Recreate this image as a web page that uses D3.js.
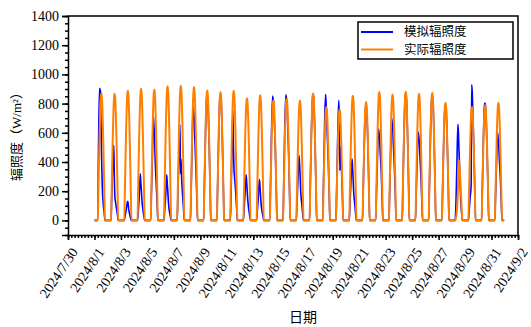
<!DOCTYPE html>
<html>
<head>
<meta charset="utf-8">
<script src="https://cdn.jsdelivr.net/npm/d3@7"></script>
<style>
  html, body { margin: 0; padding: 0; background: #fff; }
  svg { display: block; }
  .serif { font-family: "Liberation Serif", "DejaVu Serif", serif; }
  .title { font-family: "Liberation Serif", "DejaVu Serif", "Noto Sans CJK SC", serif; }
  .cjk { font-family: "Noto Sans CJK SC", sans-serif; }
</style>
</head>
<body>
<div id="chart"></div>
<script>
// 2024年8月 逐日辐照度：模拟值 vs 实测值（每天若干时刻的采样）
const days = [
  '2024/8/1', '2024/8/2', '2024/8/3', '2024/8/4', '2024/8/5', '2024/8/6', '2024/8/7', '2024/8/8',
  '2024/8/9', '2024/8/10', '2024/8/11', '2024/8/12', '2024/8/13', '2024/8/14', '2024/8/15', '2024/8/16',
  '2024/8/17', '2024/8/18', '2024/8/19', '2024/8/20', '2024/8/21', '2024/8/22', '2024/8/23', '2024/8/24',
  '2024/8/25', '2024/8/26', '2024/8/27', '2024/8/28', '2024/8/29', '2024/8/30', '2024/8/31'
];
const hours = [0, 6, 7, 9, 11, 12, 13, 14, 16, 18, 19, 23];

const simulated = [
  [0, 0, 380, 905, 880, 640, 420, 250, 110, 40, 0, 0],
  [0, 0, 120, 380, 514, 300, 160, 130, 80, 30, 0, 0],
  [0, 0, 20, 60, 110, 130, 120, 80, 40, 10, 0, 0],
  [0, 0, 40, 150, 320, 260, 210, 140, 70, 20, 0, 0],
  [0, 0, 150, 420, 708, 640, 560, 420, 250, 80, 0, 0],
  [0, 0, 50, 160, 313, 250, 200, 130, 60, 20, 0, 0],
  [0, 0, 140, 420, 655, 320, 420, 300, 160, 50, 0, 0],
  [0, 0, 160, 500, 776, 740, 700, 560, 350, 110, 0, 0],
  [0, 0, 175, 540, 820, 860, 850, 780, 520, 170, 0, 0],
  [0, 0, 170, 530, 810, 850, 860, 800, 530, 170, 0, 0],
  [0, 0, 60, 420, 753, 500, 350, 300, 200, 70, 0, 0],
  [0, 0, 60, 180, 313, 260, 200, 140, 70, 20, 0, 0],
  [0, 0, 50, 150, 279, 240, 180, 120, 60, 20, 0, 0],
  [0, 0, 200, 600, 852, 830, 800, 700, 480, 150, 0, 0],
  [0, 0, 210, 620, 861, 840, 800, 700, 470, 150, 0, 0],
  [0, 0, 90, 280, 445, 380, 300, 200, 110, 30, 0, 0],
  [0, 0, 175, 540, 810, 860, 865, 800, 530, 170, 0, 0],
  [0, 0, 200, 600, 863, 800, 720, 600, 400, 130, 0, 0],
  [0, 0, 180, 560, 822, 700, 342, 500, 350, 110, 0, 0],
  [0, 0, 80, 260, 422, 360, 290, 200, 110, 30, 0, 0],
  [0, 0, 160, 490, 740, 780, 790, 730, 490, 160, 0, 0],
  [0, 0, 130, 400, 628, 600, 560, 480, 330, 100, 0, 0],
  [0, 0, 150, 440, 697, 660, 620, 520, 350, 110, 0, 0],
  [0, 0, 175, 540, 815, 860, 870, 810, 540, 175, 0, 0],
  [0, 0, 130, 390, 605, 580, 540, 450, 300, 90, 0, 0],
  [0, 0, 170, 530, 800, 845, 850, 800, 530, 170, 0, 0],
  [0, 0, 160, 490, 740, 790, 790, 740, 490, 160, 0, 0],
  [0, 0, 60, 350, 658, 600, 480, 380, 150, 40, 0, 0],
  [0, 0, 40, 150, 240, 929, 880, 760, 480, 150, 0, 0],
  [0, 0, 170, 510, 780, 804, 790, 720, 480, 150, 0, 0],
  [0, 0, 130, 380, 600, 560, 520, 430, 290, 90, 0, 0]
];

const measured = [
  [0, 0, 174, 540, 809, 862, 870, 805, 535, 170, 0, 0],
  [0, 0, 172, 536, 806, 860, 868, 808, 540, 175, 0, 0],
  [0, 0, 178, 550, 826, 880, 888, 825, 548, 176, 0, 0],
  [0, 0, 180, 560, 838, 893, 902, 840, 558, 180, 0, 0],
  [0, 0, 179, 556, 833, 887, 896, 833, 555, 178, 0, 0],
  [0, 0, 184, 569, 854, 909, 918, 853, 568, 183, 0, 0],
  [0, 0, 184, 572, 857, 913, 922, 857, 571, 184, 0, 0],
  [0, 0, 183, 566, 849, 904, 913, 849, 566, 182, 0, 0],
  [0, 0, 178, 552, 828, 881, 890, 828, 551, 178, 0, 0],
  [0, 0, 176, 545, 817, 870, 879, 818, 545, 175, 0, 0],
  [0, 0, 178, 551, 826, 879, 888, 825, 550, 177, 0, 0],
  [0, 0, 167, 518, 777, 828, 836, 778, 518, 167, 0, 0],
  [0, 0, 172, 532, 798, 849, 858, 798, 532, 171, 0, 0],
  [0, 0, 164, 510, 764, 814, 822, 764, 509, 164, 0, 0],
  [0, 0, 167, 517, 776, 826, 834, 775, 517, 167, 0, 0],
  [0, 0, 165, 509, 765, 813, 822, 765, 510, 165, 0, 0],
  [0, 0, 174, 539, 809, 861, 870, 809, 539, 174, 0, 0],
  [0, 0, 155, 481, 722, 768, 776, 721, 481, 155, 0, 0],
  [0, 0, 152, 471, 707, 752, 760, 707, 471, 152, 0, 0],
  [0, 0, 171, 529, 794, 845, 854, 794, 529, 171, 0, 0],
  [0, 0, 162, 503, 754, 803, 811, 754, 503, 162, 0, 0],
  [0, 0, 176, 545, 817, 870, 879, 817, 545, 176, 0, 0],
  [0, 0, 172, 534, 802, 853, 862, 802, 534, 172, 0, 0],
  [0, 0, 176, 547, 820, 873, 882, 820, 547, 176, 0, 0],
  [0, 0, 174, 538, 807, 859, 868, 807, 538, 174, 0, 0],
  [0, 0, 175, 542, 813, 865, 874, 813, 542, 175, 0, 0],
  [0, 0, 161, 500, 750, 798, 806, 750, 500, 161, 0, 0],
  [0, 0, 10, 60, 200, 350, 411, 370, 240, 70, 0, 0],
  [0, 0, 155, 481, 722, 768, 776, 722, 481, 155, 0, 0],
  [0, 0, 158, 490, 735, 782, 790, 735, 490, 158, 0, 0],
  [0, 0, 161, 500, 750, 798, 806, 750, 500, 161, 0, 0]
];

const xTickLabels = [
  '2024/7/30', '2024/8/1', '2024/8/3', '2024/8/5', '2024/8/7', '2024/8/9', '2024/8/11', '2024/8/13', '2024/8/15',
  '2024/8/17', '2024/8/19', '2024/8/21', '2024/8/23', '2024/8/25', '2024/8/27', '2024/8/29', '2024/8/31', '2024/9/2'
];
const yTicks = [0, 200, 400, 600, 800, 1000, 1200, 1400];
const seriesNames = ['模拟辐照度', '实际辐照度'];
const seriesColors = ['#0000ff', '#ff8000'];

const width = 531, height = 327;
const plot = { left: 68, right: 518, top: 16, bottom: 235 };

const parseDay = s => {
  const [yy, mm, dd] = s.split('/').map(Number);
  return new Date(yy, mm - 1, dd);
};

const x = d3.scaleTime()
  .domain([parseDay(xTickLabels[0]), parseDay(xTickLabels[xTickLabels.length - 1])])
  .range([plot.left, plot.right]);
const y = d3.scaleLinear()
  .domain([-100, 1400])
  .range([plot.bottom, plot.top]);

const svg = d3.select('#chart')
  .append('svg')
  .attr('width', width)
  .attr('height', height)
  .style('background', '#fff');

// day rows -> flat list of timestamped points
function toPoints(rows) {
  return rows.flatMap((row, i) =>
    row.map((v, j) => ({ t: d3.timeHour.offset(parseDay(days[i]), hours[j]), v })));
}

const line = d3.line()
  .x(d => x(d.t))
  .y(d => y(d.v))
  .curve(d3.curveMonotoneX);

const series = [simulated, measured];
svg.append('g')
  .selectAll('path')
  .data(series)
  .join('path')
  .attr('d', d => line(toPoints(d)))
  .attr('fill', 'none')
  .attr('stroke', (d, i) => seriesColors[i])
  .attr('stroke-width', (d, i) => i === 0 ? 1.6 : 2)
  .attr('stroke-linejoin', 'round');

// frame: top and right sides
svg.append('path')
  .attr('d', `M${plot.left},${plot.top}H${plot.right}V${plot.bottom}`)
  .attr('fill', 'none')
  .attr('stroke', '#000')
  .attr('stroke-width', 1.5);

// y axis
const yMinor = svg.append('g')
  .attr('transform', `translate(${plot.left},0)`)
  .call(d3.axisLeft(y).tickValues(d3.range(-100, 1401, 50)).tickSize(3).tickFormat(''));
yMinor.select('.domain').remove();

const yAxis = svg.append('g')
  .attr('transform', `translate(${plot.left},0)`)
  .call(d3.axisLeft(y).tickValues(yTicks).tickSize(6).tickPadding(3).tickFormat(d3.format('d')));
yAxis.attr('font-family', null);
yAxis.selectAll('text')
  .attr('class', 'serif')
  .attr('font-size', 14)
  .attr('fill', '#000');

// x axis
const xMinor = svg.append('g')
  .attr('transform', `translate(0,${plot.bottom})`)
  .call(d3.axisBottom(x).ticks(d3.timeHour.every(6)).tickSize(3).tickFormat(''));
xMinor.select('.domain').remove();

const xAxis = svg.append('g')
  .attr('transform', `translate(0,${plot.bottom})`)
  .call(d3.axisBottom(x)
    .tickValues(xTickLabels.map(parseDay))
    .tickSize(5)
    .tickFormat((d, i) => xTickLabels[i]));
xAxis.attr('font-family', null);
xAxis.selectAll('text')
  .attr('x', 0)
  .attr('y', 0)
  .attr('dy', 0)
  .attr('class', 'serif')
  .attr('text-anchor', 'end')
  .attr('transform', 'translate(10,17) rotate(-56)')
  .attr('font-size', 14)
  .attr('fill', '#000');

svg.selectAll('.domain, .tick line')
  .attr('stroke', '#000')
  .attr('stroke-width', 1.5);

// axis titles
svg.append('text')
  .attr('class', 'title')
  .attr('transform', `translate(16,${(plot.top + plot.bottom) / 2 + 8}) rotate(-90)`)
  .attr('text-anchor', 'middle')
  .attr('dy', '0.35em')
  .attr('font-size', 13)
  .text('辐照度（W/m²）');

svg.append('text')
  .attr('class', 'cjk')
  .attr('x', 303)
  .attr('y', 322)
  .attr('text-anchor', 'middle')
  .attr('font-size', 14)
  .text('日期');

// legend
const legend = svg.append('g').attr('transform', 'translate(358,22)');
legend.append('rect')
  .attr('width', 155)
  .attr('height', 37)
  .attr('fill', '#fff')
  .attr('stroke', '#000')
  .attr('stroke-width', 1.5);

const item = legend.selectAll('g.item')
  .data(seriesNames)
  .join('g')
  .attr('class', 'item')
  .attr('transform', (d, i) => `translate(0,${10 + i * 17.5})`);
item.append('line')
  .attr('x1', 3)
  .attr('x2', 35)
  .attr('stroke', (d, i) => seriesColors[i])
  .attr('stroke-width', 2);
item.append('text')
  .attr('class', 'cjk')
  .attr('x', 46)
  .attr('dy', '0.35em')
  .attr('font-size', 12.5)
  .text(d => d);
</script>
</body>
</html>
